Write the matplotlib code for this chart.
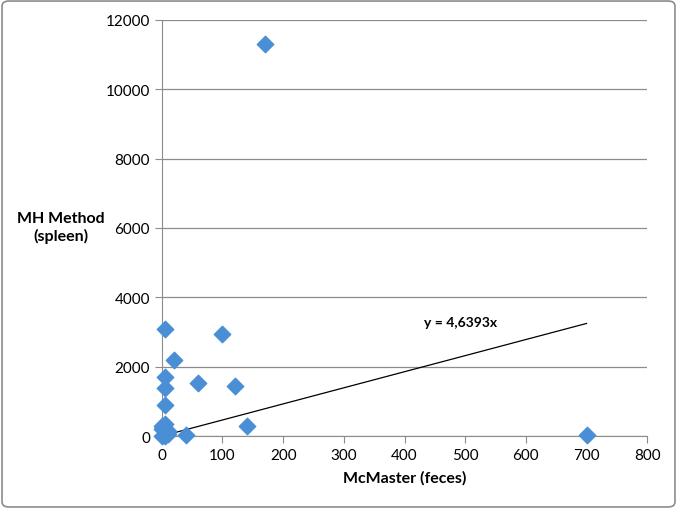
import matplotlib.pyplot as plt
import numpy as np
from matplotlib.patches import FancyBboxPatch

plt.rcParams['font.family'] = ['Lato', 'DejaVu Sans']

mcmaster = [170, 5, 100, 20, 5, 5, 60, 120, 5, 140, 40, 700,
            0, 5, 0, 10, 5, 0, 10, 2]
mh_method = [11300, 3100, 2950, 2200, 1700, 1400, 1520, 1450, 900, 300, 30, 30,
             300, 350, 200, 150, 0, 0, 50, 250]
slope = 4.6393
trend_x = [0, 700]

fig = plt.figure(figsize=(6.77, 5.10), dpi=100)
ax = fig.add_axes([0.239, 0.143, 0.717, 0.816])

ax.grid(axis='y', color='#8c8c8c', linewidth=0.9)
ax.set_axisbelow(True)
ax.scatter(mcmaster, mh_method, marker='D', s=70, color='#4a8fd6',
           edgecolors='#4a8fd6', zorder=3, clip_on=False)
ax.plot(trend_x, [slope * v for v in trend_x], color='black', linewidth=0.9, zorder=2)
ax.text(432, 3290, 'y = 4,6393x', fontsize=10, fontweight='bold', va='center')

ax.set_xlim(0, 800)
ax.set_ylim(0, 12000)
ax.set_xticks(range(0, 801, 100))
ax.set_yticks(range(0, 12001, 2000))
for s in ['top', 'right']:
    ax.spines[s].set_visible(False)
ax.spines['left'].set_color('#8c8c8c')
ax.spines['bottom'].set_color('#8c8c8c')
ax.tick_params(colors='#8c8c8c', labelcolor='black', labelsize=11, length=5)

ax.set_xlabel('McMaster (feces)', fontsize=11.5, fontweight='bold', labelpad=6)
fig.text(0.09, 0.553, 'MH Method\n(spleen)', fontsize=11.5, fontweight='bold',
         ha='center', va='center')

border = FancyBboxPatch((0.003, 0.004), 0.994, 0.992, boxstyle='round,pad=0,rounding_size=0.01',
                        transform=fig.transFigure, fill=False, edgecolor='#8c8c8c', linewidth=1.2)
fig.patches.append(border)

fig.savefig('out.png', dpi=100)
